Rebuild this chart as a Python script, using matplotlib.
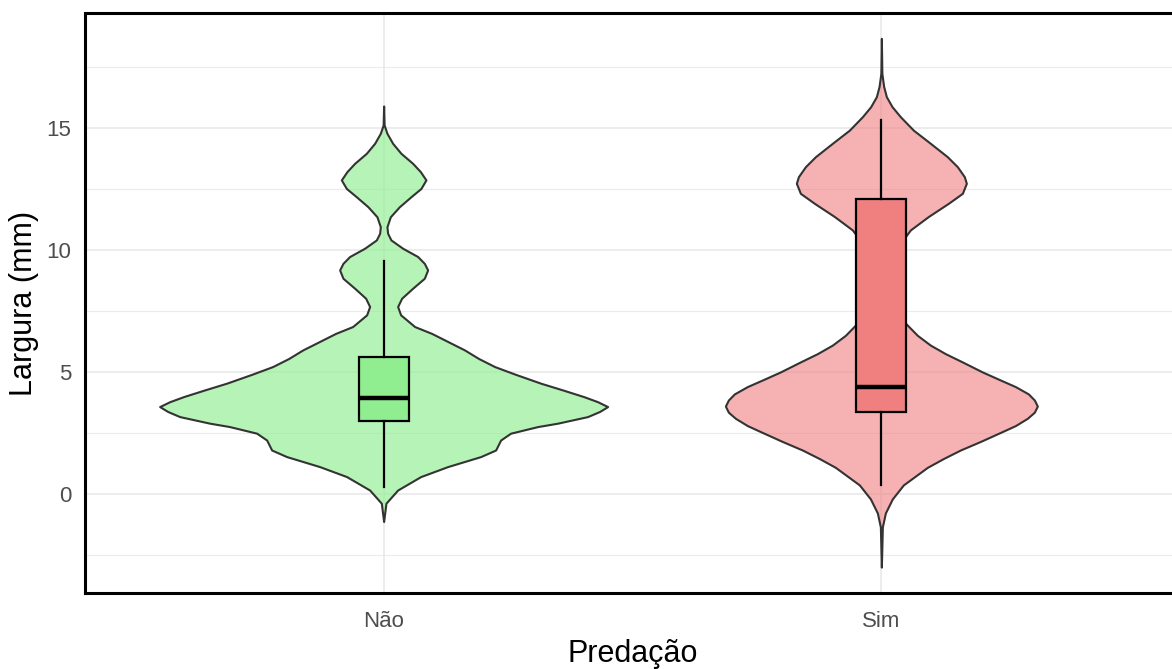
import matplotlib.pyplot as plt
import numpy as np

plt.rcParams['font.family'] = ['Liberation Sans', 'DejaVu Sans']

# Data
groups = ['Não', 'Sim']

# violin outline: y value and relative density (half-width) at that y
nao_y = [-1.13, -0.38, 0.16, 0.71, 1.12, 1.53, 1.80, 2.21, 2.49, 2.76, 2.90, 3.17, 3.38, 3.58,
         3.78, 3.99, 4.25, 4.54, 4.9, 5.22, 5.55, 5.90, 6.25, 6.58, 6.86, 7.34, 7.68, 8.02,
         8.43, 8.84, 9.18, 9.45, 9.73, 10.07, 10.41, 10.68, 10.95, 11.36, 11.77, 12.18,
         12.52, 12.87, 13.21, 13.55, 13.96, 14.37, 14.78, 15.12, 15.9]
nao_d = [0, 2.3, 14, 37, 64, 97, 112, 117, 127, 154, 174, 204, 216, 224,
         214, 200, 180, 157, 132, 111, 95, 81, 64, 48, 31, 17, 14, 18,
         29, 40.7, 44, 40.7, 34, 19, 7.3, 4, 3.3, 6.7, 15.7, 27.3,
         37.3, 42.3, 36.7, 29, 17.3, 9, 3.3, 0.5, 0]

sim_y = [-3.0, -1.35, -0.78, -0.2, 0.37, 0.7, 1.09, 1.45, 1.8, 2.15, 2.52, 2.8, 3.1, 3.35, 3.6,
         3.85, 4.1, 4.4, 4.67, 5.0, 5.39, 5.75, 6.1, 6.5, 6.96, 7.5, 8.0, 9.0, 10.0, 10.82,
         11.37, 11.91, 12.32, 12.73, 13.0, 13.41, 13.82, 14.37, 14.91, 15.46, 15.87, 16.28,
         16.7, 17.24, 18.67]
sim_d = [0, 1, 4, 11, 22, 33, 46, 62, 79, 99, 119, 134, 146, 153, 156,
         153, 147, 134, 119, 101, 82, 64, 49, 36, 25, 15, 9, 6, 14, 29,
         47, 67, 81, 85, 83, 76, 66, 49, 32, 19, 10.7, 5,
         2.3, 0.5, 0]

# box statistics
q1 = [2.99, 3.37]
med = [3.93, 4.39]
q3 = [5.62, 12.1]
whislo = [0.30, 0.37]
whishi = [9.53, 15.32]

violin_colors = [(0.565, 0.933, 0.565, 0.65), (0.941, 0.502, 0.502, 0.6)]
box_colors = ['#90EE90', '#F08080']

fig = plt.figure(figsize=(11.72, 6.69), dpi=100)
ax = fig.add_axes([85 / 1172, 76 / 669, 1095 / 1172, 580 / 669])

pos = [1, 2]
vpstats = []
for ys, ds, m in [(nao_y, nao_d, med[0]), (sim_y, sim_d, med[1])]:
    vpstats.append(dict(coords=np.array(ys), vals=np.array(ds, dtype=float), mean=m, median=m,
                        min=min(ys), max=max(ys)))
# area scaling: widest violin gets 0.9, the other in proportion to its peak density
vwidths = [0.9 * max(d) / max(max(nao_d), max(sim_d)) for d in (nao_d, sim_d)]
vp = ax.violin(vpstats, positions=pos, widths=vwidths,
               showmeans=False, showextrema=False, showmedians=False)
for body, c in zip(vp['bodies'], violin_colors):
    body.set_alpha(None)
    body.set_facecolor(c)
    body.set_edgecolor('#333333')
    body.set_linewidth(1.5)
    body.set_zorder(2)

stats = [dict(q1=q1[i], med=med[i], q3=q3[i], whislo=whislo[i], whishi=whishi[i], label=groups[i])
         for i in range(2)]
bp = ax.bxp(stats, positions=pos, widths=0.1, patch_artist=True, showfliers=False,
            showcaps=False, manage_ticks=False,
            boxprops=dict(edgecolor='black', linewidth=1.6),
            medianprops=dict(color='black', linewidth=3.2, solid_capstyle='butt'),
            whiskerprops=dict(color='black', linewidth=1.6), zorder=3)
for patch, c in zip(bp['boxes'], box_colors):
    patch.set_facecolor(c)

ax.set_xlim(0.4, 2.6)
ax.set_ylim(-4.06, 19.71)
ax.set_xticks(pos)
ax.set_xticklabels(groups)
ax.set_yticks([0, 5, 10, 15])
ax.set_yticks([-2.5, 2.5, 7.5, 12.5, 17.5], minor=True)
ax.set_axisbelow(True)
ax.grid(which='major', color='#ebebeb', linewidth=1.3)
ax.grid(which='minor', axis='y', color='#ebebeb', linewidth=0.8)
ax.tick_params(which='both', length=0)
ax.tick_params(axis='y', labelsize=16, labelcolor='#4d4d4d', pad=10)
ax.tick_params(axis='x', labelsize=16, labelcolor='#4d4d4d', pad=13)

for s in ax.spines.values():
    s.set_linewidth(2.2)
    s.set_color('black')

ax.set_xlabel('Predação', fontsize=22, labelpad=5)
ax.set_ylabel('Largura (mm)', fontsize=22, labelpad=5)

plt.savefig('out.png', dpi=100)
